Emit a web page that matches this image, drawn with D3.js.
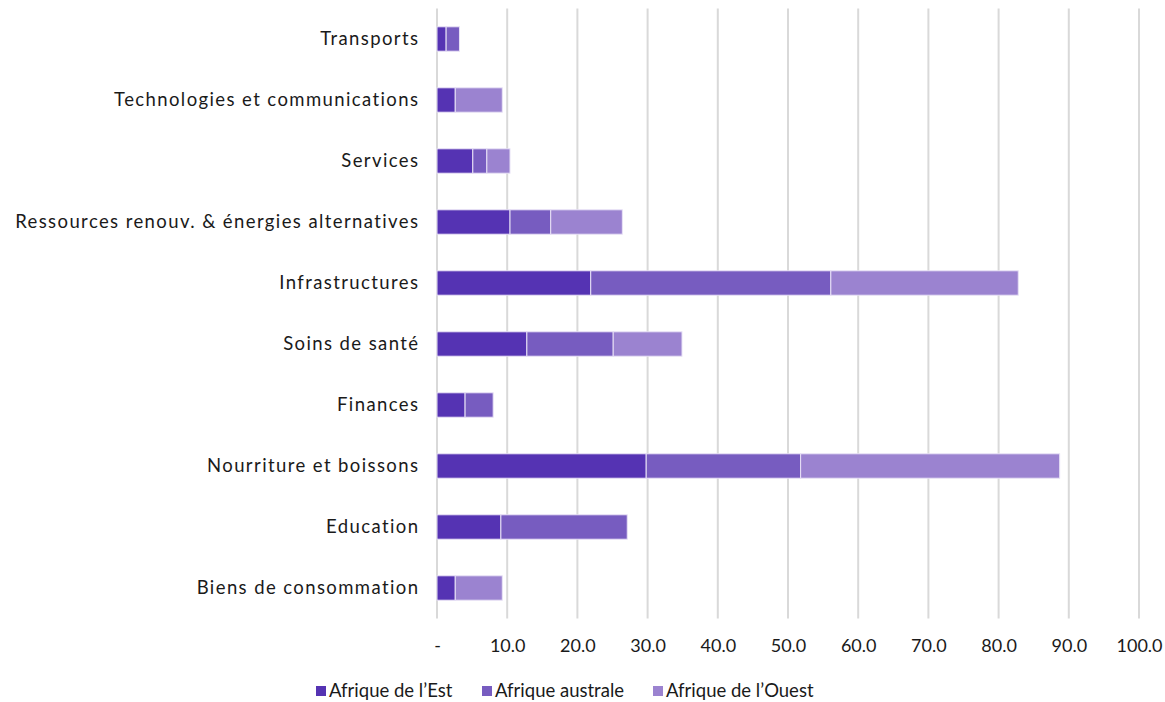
<!DOCTYPE html>
<html><head><meta charset="utf-8">
<script src="https://cdn.jsdelivr.net/npm/d3@7"></script>
<style>body{margin:0;background:#fff}svg text{font-family:Lato,"Open Sans",sans-serif;fill:#1a1a1a}</style>
</head><body><svg id="c" width="1165" height="702"></svg>
<script>
const categories = ["Transports","Technologies et communications","Services","Ressources renouv. & énergies alternatives","Infrastructures","Soins de santé","Finances","Nourriture et boissons","Education","Biens de consommation"];
const seriesNames = ["Afrique de l’Est","Afrique australe","Afrique de l’Ouest"];
const est      = [1.3, 2.6, 5.1, 10.4, 21.9, 12.8, 4.0, 29.8, 9.1, 2.6];
const australe = [1.9, 0.0, 2.0, 5.8, 34.2, 12.3, 4.0, 22.0, 18.0, 0.0];
const ouest    = [0.0, 6.7, 3.3, 10.2, 26.7, 9.8, 0.0, 36.9, 0.0, 6.7];
const tickValues = [0,10,20,30,40,50,60,70,80,90,100];
const tickLabels = ["-","10.0","20.0","30.0","40.0","50.0","60.0","70.0","80.0","90.0","100.0"];
const colors = ["#5533b3","#775cc0","#9b83d0"];

const svg = d3.select("#c");
const m = {left:437, right:1139, top:8.5, bottom:618.5};
const x = d3.scaleLinear().domain([0,100]).range([m.left,m.right]);
const y = d3.scaleBand().domain(categories).range([m.top,m.bottom]).paddingInner(0.6).paddingOuter(0.3);

// gridlines
svg.append("g").selectAll("line").data(tickValues).join("line")
  .attr("x1",d=>x(d)).attr("x2",d=>x(d)).attr("y1",m.top).attr("y2",m.bottom)
  .attr("stroke","#d9d9d9").attr("stroke-width",2);

const rows = categories.map((c,i)=>({cat:c, est:est[i], australe:australe[i], ouest:ouest[i]}));
const stack = d3.stack().keys(["est","australe","ouest"])(rows);
svg.append("g").selectAll("g").data(stack).join("g").attr("fill",(d,i)=>colors[i])
  .selectAll("rect").data(d=>d.filter(p=>p[1]-p[0]>0)).join("rect")
  .attr("x",d=>x(d[0])).attr("width",d=>x(d[1])-x(d[0]))
  .attr("y",d=>y(d.data.cat)).attr("height",y.bandwidth())
  .attr("stroke","#e8e2f6").attr("stroke-width",1);

// category labels
svg.append("g").selectAll("text").data(categories).join("text")
  .attr("x",419.4).attr("y",d=>y(d)+y.bandwidth()/2).attr("dy","0.35em")
  .attr("text-anchor","end").attr("font-size",18.5).attr("letter-spacing","1.4px").text(d=>d);

// x tick labels
const xAxis = d3.axisBottom(x).tickValues(tickValues).tickFormat((d,i)=>tickLabels[i]).tickSize(0).tickPadding(0);
const ax = svg.append("g").attr("transform",`translate(0,${639})`).call(xAxis);
ax.select(".domain").remove();
ax.selectAll("text").attr("font-size",18).attr("fill","#1a1a1a").style("font-family","Lato, 'Open Sans', sans-serif");

// legend
const legX = [316, 482, 653];
const lg = svg.append("g").selectAll("g").data(seriesNames).join("g")
  .attr("transform",(d,i)=>`translate(${legX[i]},691)`);
lg.append("rect").attr("x",0).attr("y",-5).attr("width",10).attr("height",10).attr("fill",(d,i)=>colors[i]);
lg.append("text").attr("x",13).attr("dy","0.35em").attr("font-size",18.5).text(d=>d);
</script></body></html>
